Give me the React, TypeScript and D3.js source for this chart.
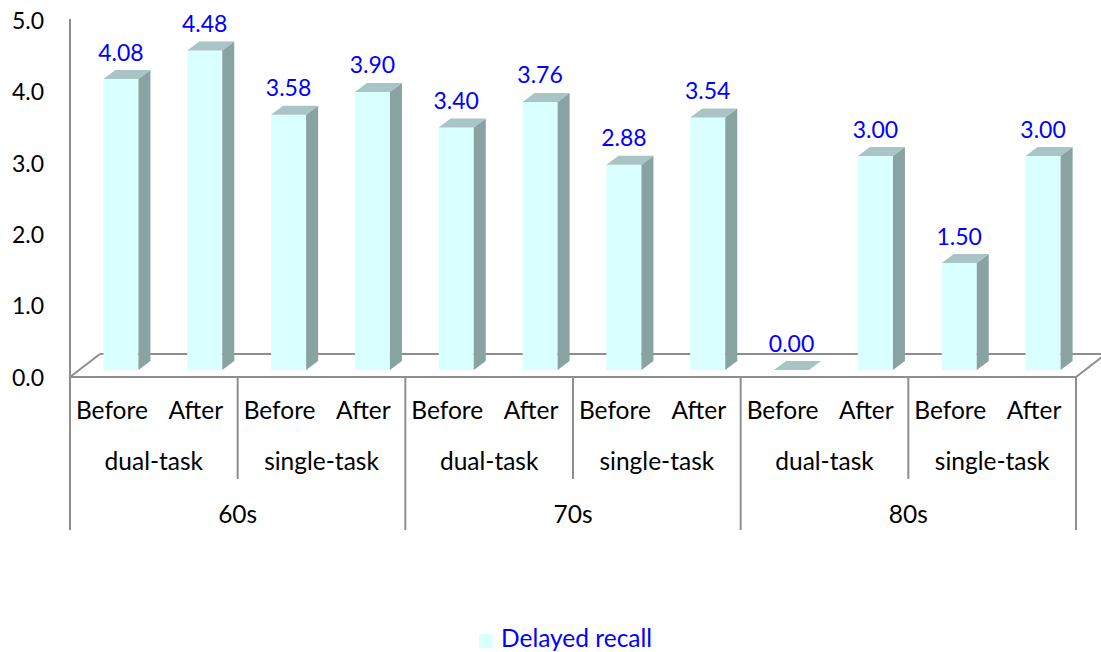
import React from "react";
import * as d3 from "d3";

const conditions = ["Before", "After", "Before", "After", "Before", "After", "Before", "After", "Before", "After", "Before", "After"];
const tasks = ["dual-task", "single-task", "dual-task", "single-task", "dual-task", "single-task"];
const ages = ["60s", "70s", "80s"];
const delayedRecall = [4.08, 4.48, 3.58, 3.9, 3.4, 3.76, 2.88, 3.54, 0.0, 3.0, 1.5, 3.0];
const yTicks = [0, 1, 2, 3, 4, 5];
const seriesName = "Delayed recall";

const W = 1101;
const H = 652;
const FONT = "Lato, 'Open Sans', sans-serif";
const NUM_SIZE = 23;
const WORD_SIZE = 24.5;
const FRONT_Y = 377;
const AXIS_X = 70;
const RIGHT_X = 1076;
const FLOOR_DX = 30;
const FLOOR_DY = 23;
const BAR_SHIFT_X = 9;
const BAR_SHIFT_Y = 7;
const BAR_DX = 12;
const BAR_DY = 9;
const GRAY = "#8e8e8e";
const FRONT = "#d9ffff";
const SIDE = "#89a3a3";
const TOP = "#a8c4c4";
const BLUE = "#0000ff";

export default function App() {
  const y = d3.scaleLinear().domain([0, 5]).range([FRONT_Y, FRONT_Y - 356.5]);
  const x = d3
    .scaleBand<number>()
    .domain(d3.range(delayedRecall.length))
    .range([AXIS_X, RIGHT_X])
    .paddingInner(0.582)
    .paddingOuter(0.291);
  const step = x.step();
  const bw = x.bandwidth();
  const pairW = step * 2;
  const groupW = step * 4;

  return (
    <svg width={W} height={H} style={{ display: "block", position: "absolute", left: 0, top: 0 }}>
      <rect width={W} height={H} fill="#ffffff" />
      {/* floor */}
      <g stroke={GRAY} strokeWidth={2} fill="none">
        <line x1={AXIS_X} y1={FRONT_Y} x2={AXIS_X + FLOOR_DX} y2={FRONT_Y - FLOOR_DY} />
        <line x1={AXIS_X + FLOOR_DX} y1={FRONT_Y - FLOOR_DY} x2={W} y2={FRONT_Y - FLOOR_DY} />
        <line x1={RIGHT_X} y1={FRONT_Y} x2={RIGHT_X + FLOOR_DX} y2={FRONT_Y - FLOOR_DY} />
      </g>
      {/* bars */}
      {delayedRecall.map((v, i) => {
        const x0 = (x(i) as number) + BAR_SHIFT_X;
        const x1 = x0 + bw;
        const base = y(0) - BAR_SHIFT_Y;
        const top = y(v) - BAR_SHIFT_Y;
        const side = `${x1},${top} ${x1 + BAR_DX},${top - BAR_DY} ${x1 + BAR_DX},${base - BAR_DY} ${x1},${base}`;
        const topFace = `${x0},${top} ${x1},${top} ${x1 + BAR_DX},${top - BAR_DY} ${x0 + BAR_DX},${top - BAR_DY}`;
        return (
          <g key={i}>
            {v > 0 && <rect x={x0} y={top} width={bw} height={base - top} fill={FRONT} />}
            {v > 0 && <polygon points={side} fill={SIDE} />}
            <polygon points={topFace} fill={TOP} />
            <text
              x={x0 + bw / 2}
              y={top - 18.5}
              textAnchor="middle"
              fontFamily={FONT}
              fontSize={NUM_SIZE}
              fill={BLUE}
            >
              {v.toFixed(2)}
            </text>
          </g>
        );
      })}
      {/* front floor line and axes */}
      <g stroke={GRAY} strokeWidth={2}>
        <line x1={AXIS_X} y1={FRONT_Y} x2={RIGHT_X} y2={FRONT_Y} />
        <line x1={AXIS_X} y1={19} x2={AXIS_X} y2={530} />
        {ages.map((_, g) => (
          <line key={"g" + g} x1={AXIS_X + (g + 1) * groupW} y1={FRONT_Y} x2={AXIS_X + (g + 1) * groupW} y2={530} />
        ))}
        {tasks.map((_, t) =>
          t % 2 === 0 ? (
            <line key={"t" + t} x1={AXIS_X + (t + 1) * pairW} y1={FRONT_Y} x2={AXIS_X + (t + 1) * pairW} y2={479} />
          ) : null
        )}
      </g>
      {/* y tick labels */}
      {yTicks.map((t) => (
        <text key={t} x={44} y={y(t) + 8.5} textAnchor="end" fontFamily={FONT} fontSize={NUM_SIZE} fill="#000">
          {t.toFixed(1)}
        </text>
      ))}
      {/* category labels */}
      {conditions.map((c, i) => (
        <text key={"c" + i} x={AXIS_X + step * (i + 0.5)} y={419} textAnchor="middle" fontFamily={FONT} fontSize={WORD_SIZE} fill="#000">
          {c}
        </text>
      ))}
      {tasks.map((t, i) => (
        <text key={"k" + i} x={AXIS_X + pairW * (i + 0.5)} y={470} textAnchor="middle" fontFamily={FONT} fontSize={WORD_SIZE} fill="#000">
          {t}
        </text>
      ))}
      {ages.map((a, i) => (
        <text key={"a" + i} x={AXIS_X + groupW * (i + 0.5)} y={523} textAnchor="middle" fontFamily={FONT} fontSize={WORD_SIZE} fill="#000">
          {a}
        </text>
      ))}
      {/* legend */}
      <rect x={479} y={634} width={14} height={14} fill={FRONT} />
      <text x={501} y={647} fontFamily={FONT} fontSize={WORD_SIZE} fill={BLUE}>
        {seriesName}
      </text>
    </svg>
  );
}
